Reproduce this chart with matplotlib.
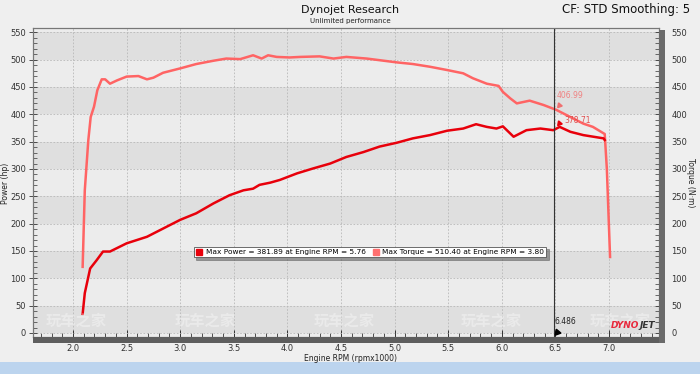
import matplotlib
matplotlib.use("Agg")
import matplotlib.pyplot as plt
from matplotlib.patches import Rectangle
from matplotlib.lines import Line2D
import numpy as np

# ---------------- data ----------------
torque_rpm = [2.09, 2.11, 2.143, 2.165, 2.196, 2.227, 2.268, 2.30, 2.345, 2.41, 2.50, 2.61,
              2.69, 2.75, 2.84, 3.00, 3.15, 3.31, 3.43, 3.56, 3.68, 3.76, 3.82, 3.90, 4.02,
              4.12, 4.30, 4.43, 4.55, 4.74, 4.86, 5.02, 5.17, 5.33, 5.49, 5.64, 5.73, 5.86,
              5.97, 6.01, 6.08, 6.14, 6.26, 6.39, 6.51, 6.64, 6.76, 6.85, 6.96, 6.98, 7.01]
torque_val = [121, 261, 353, 395, 414, 444, 464, 464, 456, 462, 469, 470,
              464, 467, 476, 484, 492, 498, 502, 501, 508, 502, 508, 505, 504,
              505, 506, 502, 505, 502, 499, 495, 492, 487, 481, 475, 466, 456,
              452, 441, 429, 420, 425, 417, 408, 395, 383, 377, 364, 300, 139]

power_rpm = [2.09, 2.11, 2.16, 2.22, 2.28, 2.345, 2.50, 2.69, 2.84, 3.00, 3.15, 3.31, 3.46,
             3.59, 3.68, 3.74, 3.84, 3.93, 4.09, 4.24, 4.40, 4.55, 4.71, 4.86, 5.02, 5.17,
             5.33, 5.49, 5.64, 5.76, 5.86, 5.95, 6.01, 6.11, 6.23, 6.36, 6.48, 6.54, 6.64,
             6.76, 6.95, 6.96]
power_val = [35, 73, 118, 133, 149, 149, 164, 176, 191, 207, 219, 237, 252,
             261, 264, 271, 275, 280, 292, 301, 310, 322, 331, 341, 348, 356,
             362, 370, 374, 381.9, 377, 374, 378, 359, 371, 374, 371, 377, 368,
             362, 356, 353]

legend_labels = ["Max Power = 381.89 at Engine RPM = 5.76",
                 "Max Torque = 510.40 at Engine RPM = 3.80"]
cursor_rpm = 6.486
cursor_torque = 406.99
cursor_power = 378.71
y_ticks = list(range(0, 551, 50))
x_ticks = [2.0, 2.5, 3.0, 3.5, 4.0, 4.5, 5.0, 5.5, 6.0, 6.5, 7.0]

# ---------------- layout helpers ----------------
W, H = 700, 374
def fx(px): return px / W
def fy(py): return 1 - py / H

POWER_C = "#e8000b"
TORQUE_C = "#ff6464"

fig = plt.figure(figsize=(7.0, 3.74), dpi=100)
fig.patch.set_facecolor("#efefef")

# taskbar strip at bottom
fig.patches.append(Rectangle((0, 0), 1, fy(362), transform=fig.transFigure,
                             facecolor="#bcd4ee", edgecolor="none", zorder=0))

ax_l, ax_r, ax_t, ax_b = 33, 659, 28, 337
ax = fig.add_axes([fx(ax_l), fy(ax_b), fx(ax_r) - fx(ax_l), fy(ax_t) - fy(ax_b)])
ax.set_facecolor("#ececec")

xmin = 2 + (ax_l - 73) / 107.2
xmax = 2 + (ax_r - 73) / 107.2
ymax = (333 - ax_t) / 0.5467
ymin = (333 - ax_b) / 0.5467
ax.set_xlim(xmin, xmax)
ax.set_ylim(ymin, ymax)

# alternating bands
for lo in range(0, 550, 100):
    ax.axhspan(lo, lo + 50, color="#dfdfdf", zorder=0, lw=0)

ax.grid(True, which="major", color="#b8b8b8", linestyle=(0, (2, 2)), linewidth=0.6)
ax.set_axisbelow(True)

# watermarks
for cx in [76, 205, 344, 491, 620]:
    fig.text(fx(cx), fy(321), "玩车之家", family=["Noto Sans CJK SC", "DejaVu Sans"],
             fontsize=11, color="white", alpha=0.35, ha="center", va="center",
             weight="bold", zorder=1)

# curves
ax.plot(torque_rpm, torque_val, color=TORQUE_C, lw=1.8, zorder=3, solid_joinstyle="round")
ax.plot(power_rpm, power_val, color=POWER_C, lw=1.8, zorder=4, solid_joinstyle="round")

# cursor
ax.axvline(cursor_rpm, color="#333333", lw=0.8, zorder=5)
ax.text(cursor_rpm + 0.03, cursor_torque + 20, f"{cursor_torque:.2f}", color="#f08080",
        fontsize=5.5, ha="left", va="bottom", zorder=6)
ax.text(cursor_rpm + 0.1, cursor_power + 2, f"{cursor_power:.2f}", color="#e05050",
        fontsize=5.5, ha="left", va="bottom", zorder=6)
ax.plot([cursor_rpm + 0.05], [cursor_torque + 10], marker=(3, 0, 20), color="#f07070",
        ms=4, zorder=6)
ax.plot([cursor_rpm + 0.05], [cursor_power + 5], marker=(3, 0, 20), color=POWER_C,
        ms=4, zorder=6)
ax.text(cursor_rpm + 0.01, 12, f"{cursor_rpm:.3f}", color="#222222", fontsize=5.5,
        ha="left", va="bottom", zorder=6)
ax.plot([cursor_rpm + 0.03], [2], marker=(3, 0, 20), color="black", ms=5, zorder=6)

# ticks
ax.set_xticks(x_ticks)
ax.set_xticklabels([f"{v:.1f}" for v in x_ticks])
ax.set_xticks(np.arange(1.7, 7.46, 0.1), minor=True)
ax.set_yticks(y_ticks)
ax.set_yticks(range(0, 556, 10), minor=True)
ax.tick_params(axis="x", which="major", direction="in", length=5, width=0.7,
               labelsize=6, pad=5, colors="#333333")
ax.tick_params(axis="x", which="minor", direction="in", length=3, width=0.6, colors="#333333")
ax.tick_params(axis="y", which="major", direction="inout", length=6, width=0.6,
               labelsize=6, pad=2, colors="#333333")
ax.tick_params(axis="y", which="minor", direction="in", length=3, width=0.5, colors="#333333")

ax2 = ax.twinx()
ax2.set_ylim(ymin, ymax)
ax2.set_yticks(y_ticks)
ax2.set_yticks(range(0, 556, 10), minor=True)
ax2.tick_params(axis="y", which="major", direction="inout", length=6, width=0.6,
                labelsize=6, pad=6, colors="#333333")
ax2.tick_params(axis="y", which="minor", direction="in", length=3, width=0.5, colors="#333333")

for a in (ax, ax2):
    for s in a.spines.values():
        s.set_color("#777777")
        s.set_linewidth(0.8)

# dark bars at bottom and right
fig.patches.append(Rectangle((fx(ax_l), fy(343)), fx(665) - fx(ax_l), fy(ax_b) - fy(343),
                             transform=fig.transFigure, facecolor="#5e5e5e",
                             edgecolor="none", zorder=5))
fig.patches.append(Rectangle((fx(ax_r), fy(343)), fx(665) - fx(ax_r), fy(ax_t + 2) - fy(343),
                             transform=fig.transFigure, facecolor="#6a6a6a",
                             edgecolor="none", zorder=5))

# axis labels
fig.text(fx(350), fy(358.5), "Engine RPM (rpmx1000)", fontsize=5.5, color="#222222",
         ha="center", va="center")
fig.text(fx(6), fy(183), "Power (hp)", fontsize=5.5, color="#222222", rotation=90,
         ha="center", va="center")
fig.text(fx(691), fy(183), "Torque (N·m)", fontsize=5.5, color="#222222", rotation=270,
         ha="center", va="center")

# titles
fig.text(fx(350), fy(10), "Dynojet Research", fontsize=8, color="#111111",
         ha="center", va="center")
fig.text(fx(350), fy(20.5), "Unlimited performance", fontsize=5, color="#222222",
         ha="center", va="center")
fig.text(fx(690), fy(10), "CF: STD Smoothing: 5", fontsize=8.5, color="#111111",
         ha="right", va="center")

# DYNOJET logo
fig.text(fx(611), fy(326), "DYNO", fontsize=6.5, color="#e8283c", weight="bold",
         style="italic", ha="left", va="center", zorder=6)
fig.text(fx(640), fy(326), "JET", fontsize=6.5, color="#333333", weight="bold",
         style="italic", ha="left", va="center", zorder=6)

# legend
handles = [Line2D([], [], ls="none", marker="s", ms=4, color=POWER_C,
                  markeredgecolor=POWER_C),
           Line2D([], [], ls="none", marker="s", ms=4, color="#ff7070",
                  markeredgecolor="#ff7070")]
leg = ax.legend(handles, legend_labels, ncol=2, fontsize=5.3, loc="center",
                bbox_to_anchor=((370 - ax_l) / (ax_r - ax_l), (ax_b - 252) / (ax_b - ax_t)),
                frameon=True, fancybox=False, shadow=True, handlelength=1.0,
                handletextpad=0.4, columnspacing=0.8, borderpad=0.3, labelspacing=0.2)
leg.get_frame().set_edgecolor("#555555")
leg.get_frame().set_linewidth(0.6)
leg.get_frame().set_facecolor("white")
leg.set_zorder(7)

fig.savefig("out.png", dpi=100, facecolor=fig.get_facecolor())
